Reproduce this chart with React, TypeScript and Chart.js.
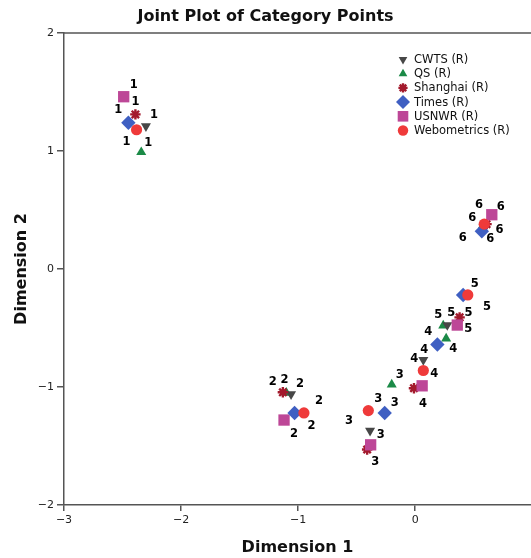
import React, { useEffect, useRef } from 'react';
import { Chart, registerables } from 'chart.js';
import { drawPoint } from 'chart.js/helpers';

Chart.register(...registerables);

// ---- data ----
const categories = ['1', '2', '3', '4', '5', '6'];
const seriesNames = ['CWTS (R)', 'QS (R)', 'Shanghai (R)', 'Times (R)', 'USNWR (R)', 'Webometrics (R)'];

const cwtsX = [-2.3, -1.06, -0.385, 0.07, 0.275, 0.6];
const cwtsY = [1.21, -1.06, -1.37, -0.77, -0.475, 0.36];
const qsX = [-2.34, -1.1, -0.2, 0.265, 0.24, 0.58];
const qsY = [0.99, -1.05, -0.98, -0.59, -0.48, 0.37];
const shanghaiX = [-2.39, -1.13, -0.41, -0.01, 0.38, 0.61];
const shanghaiY = [1.31, -1.045, -1.53, -1.01, -0.41, 0.38];
const timesX = [-2.45, -1.03, -0.26, 0.19, 0.41, 0.57];
const timesY = [1.24, -1.22, -1.22, -0.64, -0.22, 0.32];
const usnwrX = [-2.49, -1.12, -0.38, 0.06, 0.36, 0.655];
const usnwrY = [1.46, -1.28, -1.49, -0.99, -0.475, 0.46];
const webometricsX = [-2.38, -0.95, -0.4, 0.07, 0.45, 0.59];
const webometricsY = [1.18, -1.22, -1.2, -0.86, -0.22, 0.38];

const xTicks = [-3, -2, -1, 0];
const yTicks = [-2, -1, 0, 1, 2];

// ---- styles (label placement offsets, markers) ----
const labelOffsets: number[][][] = [
  [[8, -11], [9, -10], [-21, -10], [1, -10], [4, -12], [5, 12]], // CWTS
  [[7, -9], [-2, -13], [8, -10], [7, 10], [-5, -11], [-4, -20]], // QS
  [[0, -12], [-10, -10], [8, 12], [9, 16], [9, -4], [13, 6]], // Shanghai
  [[-10, -13], [17, 13], [10, -10], [-9, -13], [24, 12], [-19, 7]], // Times
  [[10, -12], [10, 14], [10, -10], [12, -12], [11, 4], [9, -8]], // USNWR
  [[-10, 12], [15, -12], [10, -12], [-9, -11], [7, -11], [-12, -6]], // Webometrics
];
const colors = ['#474747', '#1b8a47', '#a31a2d', '#3f5fc2', '#bd4797', '#ef3a3a'];
const pointStyles = ['triangle', 'triangle', 'star', 'rectRot', 'rect', 'circle'];
const rotations = [180, 0, 0, 0, 0, 0];
const radii = [5.8, 5.8, 5.2, 7.2, 8, 5.6];
const borderWidths = [0, 0, 2.4, 0, 0, 0];
const drawOrder = [4, 5, 3, 1, 2, 0];
const legendRadii = [5, 5, 4.6, 7, 7.5, 5.2];
const axisColor = '#555';

const seriesX = [cwtsX, qsX, shanghaiX, timesX, usnwrX, webometricsX];
const seriesY = [cwtsY, qsY, shanghaiY, timesY, usnwrY, webometricsY];

const FONT = "'DejaVu Sans', sans-serif";

const minusFmt = (v: number) => (v < 0 ? '\u2212' + Math.abs(v) : String(v));

const overlayPlugin = {
  id: 'overlay',
  afterDatasetsDraw(chart: any) {
    const ctx = chart.ctx;
    const area = chart.chartArea;
    ctx.save();
    // top frame line
    ctx.strokeStyle = axisColor;
    ctx.lineWidth = 1.5;
    ctx.beginPath();
    ctx.moveTo(area.left, area.top);
    ctx.lineTo(area.right, area.top);
    ctx.stroke();
    // category labels
    ctx.fillStyle = '#000';
    ctx.font = `bold 11.5px ${FONT}`;
    ctx.textAlign = 'center';
    ctx.textBaseline = 'middle';
    chart.data.datasets.forEach((ds: any, di: number) => {
      const meta = chart.getDatasetMeta(di);
      meta.data.forEach((el: any, i: number) => {
        const off = labelOffsets[di][i];
        ctx.fillText(categories[i], el.x + off[0], el.y + off[1]);
      });
    });
    // legend
    const lx = 403;
    const ly = 59.5;
    const step = 14.2;
    seriesNames.forEach((name, i) => {
      const y = ly + i * step;
      ctx.fillStyle = colors[i];
      ctx.strokeStyle = colors[i];
      ctx.lineWidth = borderWidths[i];
      drawPoint(ctx, {
        pointStyle: pointStyles[i],
        rotation: rotations[i],
        radius: legendRadii[i],
        borderWidth: borderWidths[i],
      } as any, lx, y);
      ctx.fillStyle = '#111';
      ctx.font = `11.5px ${FONT}`;
      ctx.textAlign = 'left';
      ctx.textBaseline = 'middle';
      ctx.fillText(name, lx + 11, y + 0.5);
    });
    ctx.restore();
  },
};

export default function App() {
  const canvasRef = useRef<HTMLCanvasElement | null>(null);

  useEffect(() => {
    if (!canvasRef.current) return;
    const datasets = seriesNames.map((name, i) => ({
      label: name,
      data: seriesX[i].map((x, j) => ({ x, y: seriesY[i][j] })),
      pointStyle: pointStyles[i],
      rotation: rotations[i],
      pointRadius: radii[i],
      pointHoverRadius: radii[i],
      backgroundColor: colors[i],
      borderColor: colors[i],
      borderWidth: borderWidths[i],
      order: drawOrder[i],
      showLine: false,
    }));

    const chart = new Chart(canvasRef.current, {
      type: 'scatter',
      data: { datasets },
      plugins: [overlayPlugin],
      options: {
        responsive: false,
        animation: false,
        layout: { padding: 0, autoPadding: false },
        plugins: {
          legend: { display: false },
          tooltip: { enabled: false },
          title: {
            display: true,
            text: 'Joint Plot of Category Points',
            color: '#111',
            font: { family: FONT, size: 16, weight: 'bold' },
            padding: { top: 7, bottom: 6.8 },
          },
        },
        scales: {
          x: {
            type: 'linear',
            min: -3,
            max: 0.99,
            afterBuildTicks: (scale: any) => {
              scale.ticks = xTicks.map((v) => ({ value: v }));
            },
            afterFit: (scale: any) => {
              scale.height = 53;
            },
            ticks: {
              color: '#222',
              font: { family: FONT, size: 11 },
              padding: 3,
              maxRotation: 0,
              callback: (v: any) => minusFmt(Number(v)),
            },
            grid: { display: true, drawOnChartArea: false, drawTicks: true, tickLength: 6, color: axisColor, lineWidth: 1.5 },
            border: { display: true, color: axisColor, width: 1.5 },
            title: {
              display: true,
              text: 'Dimension 1',
              color: '#111',
              font: { family: FONT, size: 16, weight: 'bold' },
              padding: { top: 0, bottom: 1 },
            },
          },
          y: {
            type: 'linear',
            min: -2,
            max: 2,
            afterBuildTicks: (scale: any) => {
              scale.ticks = yTicks.map((v) => ({ value: v }));
            },
            afterFit: (scale: any) => {
              scale.width = 64;
            },
            ticks: {
              color: '#222',
              font: { family: FONT, size: 11 },
              padding: 3,
              callback: (v: any) => minusFmt(Number(v)),
            },
            grid: { display: true, drawOnChartArea: false, drawTicks: true, tickLength: 7, color: axisColor, lineWidth: 1.5 },
            border: { display: true, color: axisColor, width: 1.5 },
            title: {
              display: true,
              text: 'Dimension 2',
              color: '#111',
              font: { family: FONT, size: 16, weight: 'bold' },
              padding: { top: 12, bottom: 0 },
            },
          },
        },
      } as any,
    });
    return () => chart.destroy();
  }, []);

  return (
    <div style={{ position: 'absolute', left: 0, top: 0, width: 531, height: 558, background: '#fff' }}>
      <canvas ref={canvasRef} width={531} height={558} />
    </div>
  );
}
